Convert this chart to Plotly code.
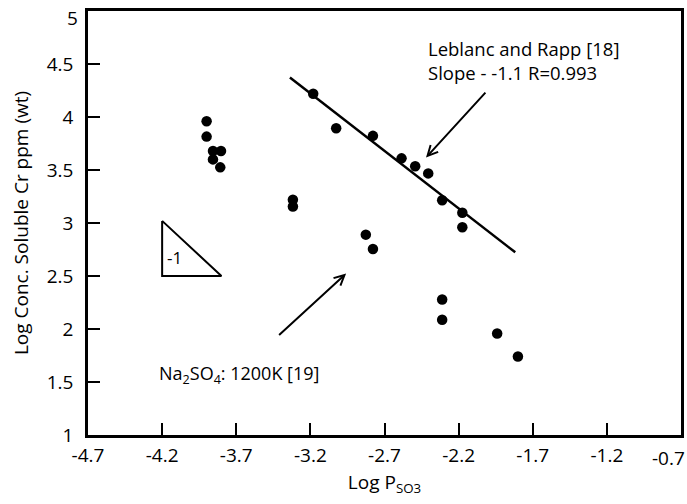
import plotly.graph_objects as go

# Measured solubility of Cr (log ppm by weight) versus log partial pressure of SO3
log_pso3 = [-3.90, -3.90, -3.857, -3.803, -3.857, -3.808, -3.318, -3.318,
            -3.181, -3.026, -2.778, -2.585, -2.493, -2.405, -2.311, -2.175,
            -2.175, -2.826, -2.778, -2.311, -2.311, -1.94, -1.80]
log_cr = [3.96, 3.815, 3.68, 3.68, 3.60, 3.525, 3.22, 3.155,
          4.22, 3.894, 3.822, 3.61, 3.535, 3.468, 3.214, 3.096,
          2.96, 2.89, 2.754, 2.278, 2.087, 1.957, 1.74]

# Leblanc and Rapp fit line (slope about -1.1)
fit_x = [-3.338, -1.818]
fit_y = [4.373, 2.723]

# Reference slope triangle (-1)
tri_x = [-4.2, -4.2, -3.8, -4.2]
tri_y = [3.02, 2.5, 2.5, 3.02]

x_ticks = [-4.7, -4.2, -3.7, -3.2, -2.7, -2.2, -1.7, -1.2, -0.7]
x_tick_text = ["-4.7", "-4.2", "-3.7", "-3.2", "-2.7", "-2.2", "-1.7", "-1.2", "-0.7"]
y_ticks = [1, 1.5, 2, 2.5, 3, 3.5, 4, 4.5, 5]
y_tick_text = ["1", "1.5", "2", "2.5", "3", "3.5", "4", "4.5", "5"]

FONT = "Open Sans"
TICK_FONT = dict(family=FONT, size=19, color="black")

fig = go.Figure()

fig.add_trace(go.Scatter(
    x=fit_x, y=fit_y, mode="lines",
    line=dict(color="black", width=2.5), showlegend=False, hoverinfo="skip"))

fig.add_trace(go.Scatter(
    x=tri_x, y=tri_y, mode="lines",
    line=dict(color="black", width=2), showlegend=False, hoverinfo="skip"))

fig.add_trace(go.Scatter(
    x=log_pso3, y=log_cr, mode="markers",
    marker=dict(color="black", size=10.5), showlegend=False))

# The outermost tick labels sit at the page edges, so they are drawn as
# annotations nudged inward instead of as regular axis labels.
x_labels = x_tick_text[:-1] + [""]
y_labels = y_tick_text[:-1] + [""]

annotations = [
    dict(x=x_ticks[-1], y=0, xref="x", yref="paper", xanchor="right",
         yanchor="middle", yshift=-23, xshift=6, showarrow=False,
         text=x_tick_text[-1], font=TICK_FONT),
    dict(x=0, y=y_ticks[-1], xref="paper", yref="y", xanchor="right",
         yanchor="middle", xshift=-8, yshift=-7, showarrow=False,
         text=y_tick_text[-1], font=TICK_FONT),
    dict(x=-2.423, y=4.5375, xref="x", yref="y", xanchor="left", yanchor="middle",
         align="left", showarrow=False,
         text="Leblanc and Rapp [18]<br>Slope - -1.1 R=0.993",
         font=dict(family=FONT, size=18.5, color="black")),
    dict(x=-4.234, y=1.572, xref="x", yref="y", xanchor="left", yanchor="middle",
         showarrow=False,
         text="Na<sub>2</sub>SO<sub>4</sub>: 1200K [19]",
         font=dict(family=FONT, size=18, color="black")),
    dict(x=-4.18, y=2.67, xref="x", yref="y", xanchor="left", yanchor="middle",
         showarrow=False, text="-1",
         font=dict(family=FONT, size=17, color="black")),
    # arrow pointing at the fit line
    dict(x=-2.42, y=3.617, ax=-2.01, ay=4.244, xref="x", yref="y",
         axref="x", ayref="y", showarrow=True, arrowhead=5, arrowsize=1,
         arrowwidth=2, arrowcolor="black", text=""),
    # arrow pointing at the Na2SO4 data
    dict(x=-2.959, y=2.524, ax=-3.421, ay=1.93, xref="x", yref="y",
         axref="x", ayref="y", showarrow=True, arrowhead=5, arrowsize=1,
         arrowwidth=2, arrowcolor="black", text=""),
]

fig.update_layout(
    width=687, height=504,
    margin=dict(l=88, r=6, t=11, b=69, autoexpand=False),
    paper_bgcolor="white", plot_bgcolor="white",
    font=dict(family=FONT, size=19, color="black"),
    annotations=annotations,
    xaxis=dict(
        range=[-4.7001, -0.6999], tickvals=x_ticks, ticktext=x_labels,
        showgrid=False, zeroline=False, showline=True, linecolor="black",
        linewidth=2.5, mirror=True, ticks="inside", ticklen=12, tickwidth=2,
        tickcolor="black", ticklabelstandoff=1, automargin=False,
        tickfont=TICK_FONT,
        title=dict(text="Log P<sub>SO3</sub>", standoff=10,
                   font=dict(family=FONT, size=19, color="black")),
    ),
    yaxis=dict(
        range=[0.9999, 5.0001], tickvals=y_ticks, ticktext=y_labels,
        showgrid=False, zeroline=False, showline=True, linecolor="black",
        linewidth=2.5, mirror=True, ticks="inside", ticklen=12, tickwidth=2,
        tickcolor="black", ticklabelstandoff=8, automargin=False,
        tickfont=TICK_FONT,
        title=dict(text="Log Conc. Soluble Cr ppm (wt)", standoff=14,
                   font=dict(family=FONT, size=19, color="black")),
    ),
)

fig.write_html("out.html")
